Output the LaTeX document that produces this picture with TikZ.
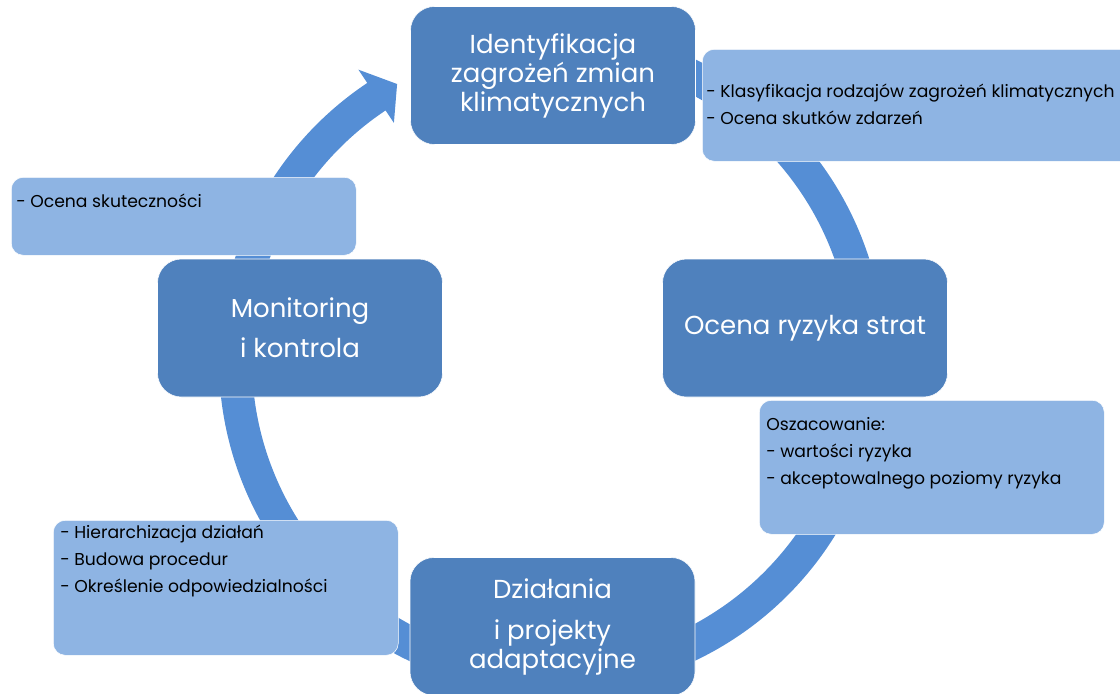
\documentclass[tikz,border=0pt]{standalone}
\usepackage{fontspec}
\setmainfont{Poppins}
\usepackage{xcolor}
\definecolor{ringblue}{RGB}{85,142,213}
\definecolor{stepblue}{RGB}{79,129,189}
\definecolor{noteblue}{RGB}{142,180,227}
% one curved arrow of the cycle: start angle, head base angle, tip angle
\newcommand{\ringarrow}[3]{%
  \fill[ring] (#1:300) arc[start angle=#1, end angle=#2, radius=300]
    -- (#2:285) -- (#3:316.5) -- (#2:349) -- (#2:333)
    arc[start angle=#2, end angle=#1, radius=333] -- cycle;}

\begin{document}
\begin{tikzpicture}[x=0.75pt, y=-0.75pt,
    ring/.style={fill=ringblue},
    stepbox/.style={fill=stepblue, draw=white, rounded corners=18pt,
      minimum width=213.75pt, minimum height=103.5pt, text=white,
      align=center, font=\fontsize{19.5}{21.75}\selectfont},
    notebox/.style={fill=noteblue, draw=white, rounded corners=9pt,
      anchor=north west, inner sep=0pt},
    notetext/.style={anchor=base west, inner sep=0pt,
      font=\fontsize{12.9}{20.25}\selectfont}]
	\clip (0,0) rectangle (1120,693);
	% Ring arrows
	\begin{scope}[shift={(552,360)}]
		\ringarrow{185}{236.3}{240.7}
		\ringarrow{290}{346}{351}
		\ringarrow{20}{68}{73}
		\ringarrow{100}{186}{191}
	\end{scope}
	% Steps of the cycle
	\node[stepbox] (ident) at (553,75.5) {Identyfikacja\\zagrożeń zmian\\klimatycznych};
	\node[stepbox] (ocena) at (805,328) {Ocena ryzyka strat};
	\node[stepbox] (dzial) at (552.5,626.5) {Działania\\[9pt]i projekty\\adaptacyjne};
	\node[stepbox] (monit) at (300,328) {Monitoring\\[8.25pt]i kontrola};
	% Notes
	\node[notebox, minimum width=324.75pt, minimum height=84pt] (identnote) at (702,49) {};
	\node[notebox, minimum width=258.75pt, minimum height=100.5pt] (ocenanote) at (759,400) {};
	\node[notebox, minimum width=258.75pt, minimum height=101.25pt] (dzialnote) at (53,520) {};
	\node[notebox, minimum width=258.75pt, minimum height=58.5pt] (monitnote) at (11,177) {};
	% Note texts
	\node[notetext] (identtxt) at (706,97) {\parbox[t]{330pt}{- Klasyfikacja rodzajów zagrożeń klimatycznych\\- Ocena skutków zdarzeń}};
	\node[notetext] (ocenatxt) at (766,430) {\parbox[t]{250pt}{Oszacowanie:\\- wartości ryzyka\\- akceptowalnego poziomy ryzyka}};
	\node[notetext] (dzialtxt) at (60,538) {\parbox[t]{250pt}{- Hierarchizacja działań\\- Budowa procedur\\- Określenie odpowiedzialności}};
	\node[notetext] (monittxt) at (16,207) {\parbox[t]{250pt}{- Ocena skuteczności}};
\end{tikzpicture}
\end{document}
